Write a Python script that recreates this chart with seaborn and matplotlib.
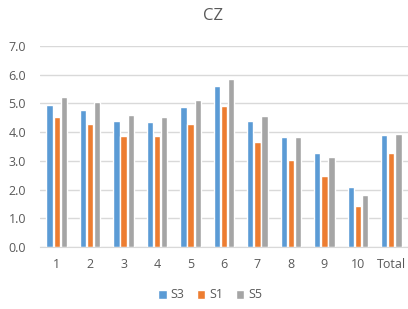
import matplotlib
matplotlib.use('Agg')
import matplotlib.pyplot as plt
import pandas as pd
import seaborn as sns

# values
categories = ['1', '2', '3', '4', '5', '6', '7', '8', '9', '10', 'Total']
s3 = [4.96, 4.76, 4.39, 4.34, 4.88, 5.60, 4.39, 3.84, 3.26, 2.09, 3.90]
s1 = [4.54, 4.27, 3.88, 3.86, 4.27, 4.92, 3.67, 3.03, 2.47, 1.43, 3.26]
s5 = [5.24, 5.04, 4.60, 4.52, 5.11, 5.85, 4.55, 3.82, 3.14, 1.81, 3.95]
series = ['S3', 'S1', 'S5']
colors = ['#5B9BD5', '#ED7D31', '#A5A5A5']


def plot_chart():
    rows = []
    for name, values in zip(series, [s3, s1, s5]):
        for cat, v in zip(categories, values):
            rows.append({'Category': cat, 'Series': name, 'Value': v})
    df = pd.DataFrame(rows)

    sns.set_style('white')
    plt.rcParams['font.family'] = ['Open Sans', 'DejaVu Sans']
    text_color = '#595959'

    fig = plt.figure(figsize=(4.08, 3.09), dpi=100)
    ax = fig.add_axes([40 / 408, 1 - 247 / 309, 368 / 408, 201 / 309])

    sns.barplot(data=df, x='Category', y='Value', hue='Series',
                order=categories, hue_order=series,
                palette=colors, width=0.64, gap=0.12,
                saturation=1, ax=ax)

    ax.set_ylim(0, 7)
    ax.set_xlim(-0.5, 10.5)
    ax.set_yticks([i for i in range(8)])
    ax.set_yticklabels([f"{i:.1f}" for i in range(8)])
    ax.yaxis.grid(True, color='#D9D9D9', linewidth=1)
    ax.set_axisbelow(True)
    for side in ['left', 'right', 'top']:
        ax.spines[side].set_visible(False)
    ax.spines['bottom'].set_color('#D9D9D9')
    ax.tick_params(axis='both', length=0, labelsize=9, colors=text_color)
    ax.tick_params(axis='x', pad=8)
    ax.tick_params(axis='y', pad=10)
    ax.set_xlabel('')
    ax.set_ylabel('')

    fig.text(213 / 408, 1 - 16 / 309, 'CZ', ha='center', va='center',
             fontsize=12, color=text_color)

    handles, labels = ax.get_legend_handles_labels()
    ax.get_legend().remove()
    fig.legend(handles=handles, labels=labels, loc='center',
               bbox_to_anchor=(210 / 408, 1 - 295 / 309), ncol=3,
               frameon=False, fontsize=9, labelcolor=text_color,
               handlelength=0.7, handleheight=0.7, handletextpad=0.3,
               columnspacing=1.0)

    fig.savefig('out.png', dpi=100)
    plt.close(fig)


if __name__ == '__main__':
    plot_chart()
